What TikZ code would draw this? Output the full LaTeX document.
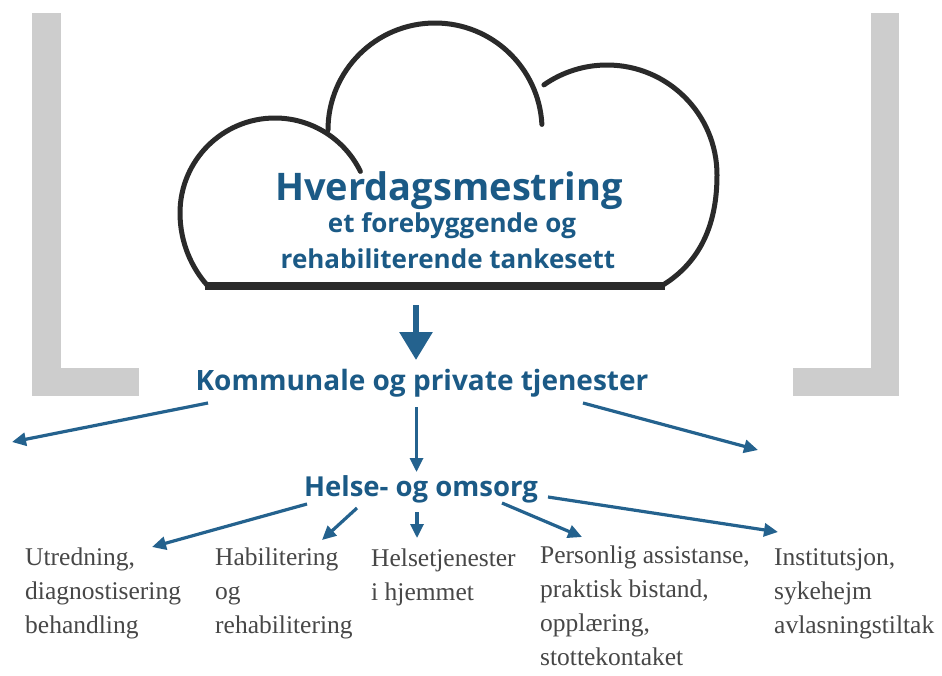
\documentclass[tikz,border=0pt]{standalone}
\usepackage{fontspec}
\setmainfont{Liberation Serif}
\newfontfamily\osans{Open Sans}
\usetikzlibrary{arrows.meta}
\definecolor{bluetxt}{HTML}{1B5A86}
\definecolor{bluearr}{HTML}{24628E}
\definecolor{barg}{HTML}{CDCDCD}
\definecolor{cloudc}{HTML}{2A2A2A}
\definecolor{txtgray}{HTML}{474747}
\tikzset{
  bar/.style={fill=barg, draw=none},
  cloudline/.style={draw=cloudc, line width=5pt, line cap=round},
  title/.style={font=\osans\bfseries, text=bluetxt, inner sep=0pt, anchor=base},
  col/.style={font=\fontsize{25.5}{34}\selectfont, text=txtgray, align=left, inner sep=0pt, anchor=base west},
  arr/.style={draw=bluearr, line width=3.2pt, -{Triangle[length=14pt,width=13pt]}},
  bigarr/.style={draw=bluearr, line width=6pt, -{Triangle[length=28pt,width=32pt]}}
}
\begin{document}
\begin{tikzpicture}[x=1pt,y=-1pt]
\useasboundingbox (0,0) rectangle (942,675);
\fill[white] (0,0) rectangle (942,675);
% grey brackets
\fill[bar] (32,13) rectangle (61,396);
\fill[bar] (32,368) rectangle (139,396);
\fill[bar] (871,13) rectangle (899,396);
\fill[bar] (793,368) rectangle (899,396);
% cloud
\draw[cloudline] (207,285) .. controls (192,268) and (180,243) .. (180,213)
  .. controls (180,160.5) and (222.5,118) .. (275,118)
  .. controls (311.3,118) and (344.5,138.8) .. (360.4,171.4);
\draw[cloudline] (328,130) .. controls (328,70.9) and (375.9,23) .. (435,23)
  .. controls (491.9,23) and (538.9,67.6) .. (541.9,124.4);
\draw[cloudline] (543.9,84.9) .. controls (562.4,71.9) and (584.4,65) .. (607,65)
  .. controls (667.8,65) and (717,114.2) .. (717,175)
  .. controls (717,225) and (700,262) .. (663,285);
\draw[draw=cloudc, line width=8pt] (205,286) -- (665,286);
% cloud text
\node[title, font=\osans\bfseries\fontsize{38}{40}\selectfont] (hv) at (449,200) {Hverdagsmestring};
\node[title, font=\osans\bfseries\fontsize{26}{30}\selectfont] (l2) at (452,232) {et forebyggende og};
\node[title, font=\osans\bfseries\fontsize{26}{30}\selectfont] (l3) at (448,268) {rehabiliterende tankesett};
% level texts
\node[title, font=\osans\bfseries\fontsize{28}{30}\selectfont] (kom) at (422,390) {Kommunale og private tjenester};
\node[title, font=\osans\bfseries\fontsize{27.5}{30}\selectfont] (hel) at (421,496) {Helse- og omsorg};
% columns (anchor = baseline of last line)
\node[col] (utr) at (25,633) {Utredning,\\diagnostisering\\behandling};
\node[col] (hab) at (215,633) {Habilitering\\og\\rehabilitering};
\node[col] (hj) at (371,600) {Helsetjenester\\i hjemmet};
\node[col] (per) at (540,665) {Personlig assistanse,\\praktisk bistand,\\opplæring,\\stottekontaket};
\node[col] (ins) at (774,633) {Institutsjon,\\sykehejm\\avlasningstiltak};
% coordinates
\coordinate (cb) at (416,305);
\coordinate (kt) at (416,360);
\coordinate (kL) at (208,403);
\coordinate (kLe) at (12,442);
\coordinate (kM) at (416.5,407);
\coordinate (kMe) at (416.5,472);
\coordinate (kR) at (583,403);
\coordinate (kRe) at (758,450);
\coordinate (h1) at (307,504); \coordinate (h1e) at (152,547);
\coordinate (h2) at (357,508); \coordinate (h2e) at (322,540);
\coordinate (h3) at (417,512); \coordinate (h3e) at (417,538);
\coordinate (h4) at (502,503); \coordinate (h4e) at (582,537);
\coordinate (h5) at (548,497); \coordinate (h5e) at (778,532);
% arrows
\draw[bigarr] (cb) -- (kt);
\draw[arr] (kL) -- (kLe);
\draw[arr] (kM) -- (kMe);
\draw[arr] (kR) -- (kRe);
\draw[arr] (h1) -- (h1e);
\draw[arr] (h2) -- (h2e);
\draw[arr] (h3) -- (h3e);
\draw[arr] (h4) -- (h4e);
\draw[arr] (h5) -- (h5e);
\end{tikzpicture}
\end{document}
